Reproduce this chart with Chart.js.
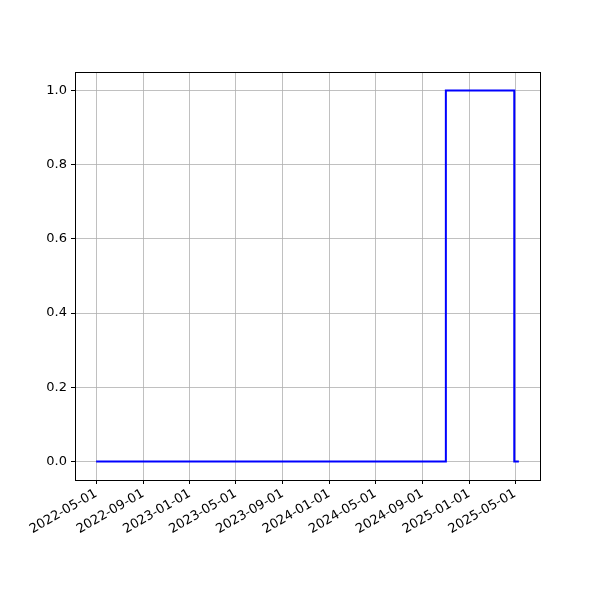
<!DOCTYPE html>
<html lang="en">
<head>
  <meta charset="UTF-8">
  <title>Step chart</title>
  <script src="https://cdn.jsdelivr.net/npm/chart.js"></script>
<style>
  body { margin: 0; background: #fff; }
  #wrap { width: 600px; height: 600px; }
</style>
</head>
<body>
  <div id="wrap"><canvas id="stepChart" width="600" height="600"></canvas></div>
  <script>
    // data
    const dates = ['2022-05-01', '2024-11-01', '2025-04-29', '2025-05-11'];
    const values = [0, 1, 0, 0];
    const xTickDates = ['2022-05-01', '2022-09-01', '2023-01-01', '2023-05-01', '2023-09-01',
                        '2024-01-01', '2024-05-01', '2024-09-01', '2025-01-01', '2025-05-01'];
    const yTicks = [0.0, 0.2, 0.4, 0.6, 0.8, 1.0];

    const toMs = s => { const [y, m, d] = s.split('-').map(Number); return Date.UTC(y, m - 1, d); };
    const fmt = ms => {
      const d = new Date(ms);
      const p = n => String(n).padStart(2, '0');
      return d.getUTCFullYear() + '-' + p(d.getUTCMonth() + 1) + '-' + p(d.getUTCDate());
    };

    const xs = dates.map(toMs);
    const span = xs[xs.length - 1] - xs[0];
    const xMin = xs[0] - 0.05 * span;
    const xMax = xs[xs.length - 1] + 0.05 * span;

    // box around the plot area, like matplotlib spines
    const frame = {
      id: 'frame',
      afterDatasetsDraw(chart) {
        const { ctx, chartArea: a } = chart;
        ctx.save();
        ctx.strokeStyle = '#000';
        ctx.lineWidth = 1;
        ctx.strokeRect(Math.round(a.left) + 0.5, Math.round(a.top) + 0.5,
                       Math.round(a.right - a.left), Math.round(a.bottom - a.top));
        ctx.restore();
      }
    };

    const font = { family: 'DejaVu Sans', size: 13 };

    new Chart(document.getElementById('stepChart').getContext('2d'), {
      type: 'line',
      data: {
        datasets: [{
          data: xs.map((x, i) => ({ x: x, y: values[i] })),
          stepped: 'before',
          borderColor: '#0000ff',
          borderWidth: 2,
          pointRadius: 0,
          fill: false
        }]
      },
      options: {
        responsive: false,
        animation: false,
        layout: { padding: { left: 0, top: 72, right: 60, bottom: 0 } },
        plugins: { legend: { display: false }, tooltip: { enabled: false } },
        scales: {
          x: {
            type: 'linear',
            min: xMin,
            max: xMax,
            afterBuildTicks: s => { s.ticks = xTickDates.map(d => ({ value: toMs(d) })); },
            afterFit: s => { s.height = 120; },
            ticks: {
              callback: v => fmt(v),
              minRotation: 30,
              maxRotation: 30,
              autoSkip: false,
              color: '#000',
              font: font,
              padding: 2
            },
            grid: { color: '#b0b0b0', lineWidth: 0.8, tickColor: '#000', tickLength: 4, tickWidth: 1 },
            border: { display: false }
          },
          y: {
            min: -0.05,
            max: 1.05,
            afterBuildTicks: s => { s.ticks = yTicks.map(v => ({ value: v })); },
            afterFit: s => { s.width = 75; },
            ticks: {
              callback: v => v.toFixed(1),
              color: '#000',
              font: font,
              padding: 4
            },
            grid: { color: '#b0b0b0', lineWidth: 0.8, tickColor: '#000', tickLength: 4, tickWidth: 1 },
            border: { display: false }
          }
        }
      },
      plugins: [frame]
    });
  </script>
</body>
</html>
